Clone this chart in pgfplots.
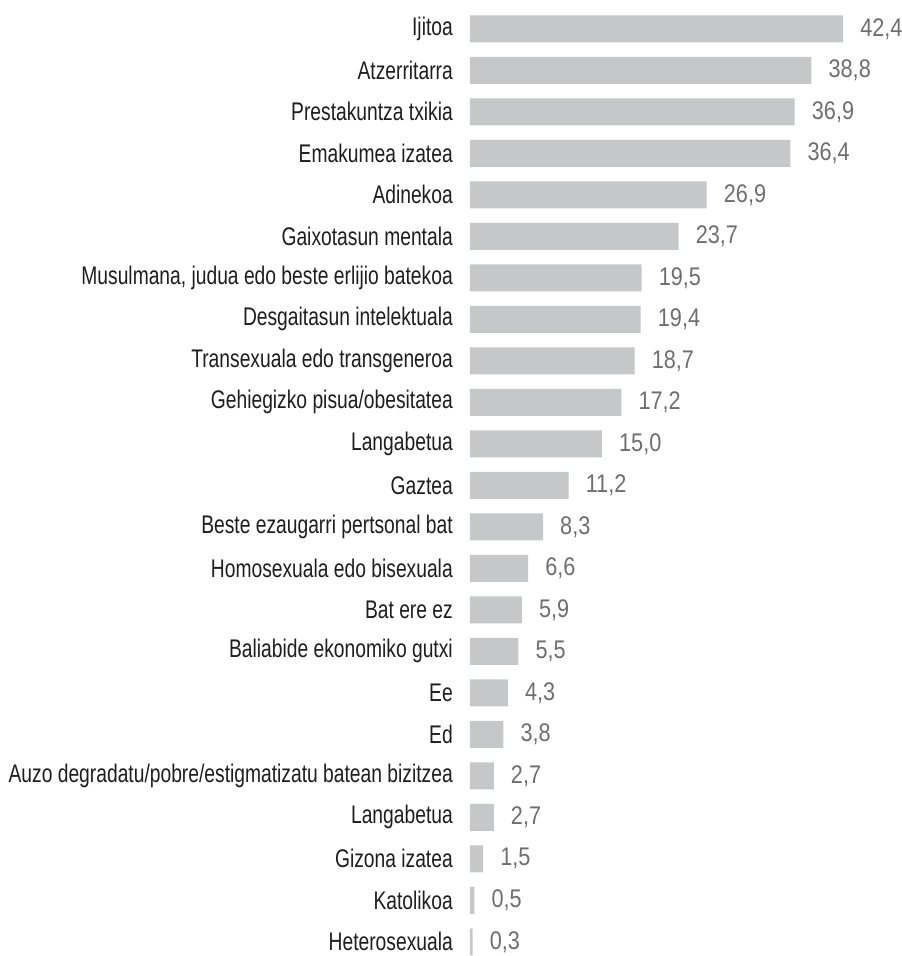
\documentclass[border=0pt]{standalone}
\usepackage{pgfplots}
\pgfplotsset{compat=1.18}
\usepackage{fontspec}
\setmainfont{Liberation Sans}[FakeStretch=0.755]
\newfontfamily\valfont{Liberation Sans}[FakeStretch=0.85]
\definecolor{barc}{HTML}{C6C7C8}
\definecolor{valc}{HTML}{6E6E6E}
\definecolor{labc}{HTML}{1E1E1E}
\begin{document}
\fontsize{25.5pt}{29pt}\selectfont
\begin{tikzpicture}
\begin{axis}[
  scale only axis,
  width=422.4pt, height=954.5pt,
  xmin=0, xmax=48,
  ymin=-0.5, ymax=22.5,
  y dir=reverse,
  xbar, bar width=27pt,
  axis line style={draw=none},
  xtick=\empty,
  ytick={0,...,22},
  major tick length=0pt,
  tick style={draw=none},
  yticklabels={Ijitoa,Atzerritarra,Prestakuntza txikia,Emakumea izatea,Adinekoa,Gaixotasun mentala,{Musulmana, judua edo beste erlijio batekoa},Desgaitasun intelektuala,Transexuala edo transgeneroa,Gehiegizko pisua/obesitatea,Langabetua,Gaztea,Beste ezaugarri pertsonal bat,Homosexuala edo bisexuala,Bat ere ez,Baliabide ekonomiko gutxi,Ee,Ed,Auzo degradatu/pobre/estigmatizatu batean bizitzea,Langabetua,Gizona izatea,Katolikoa,Heterosexuala},
  yticklabel style={font=\fontsize{25.5pt}{29pt}\selectfont, text=labc, inner sep=0pt, anchor=east, xshift=-17pt},
  nodes near coords={\pgfmathprintnumber[fixed, fixed zerofill, precision=1, use comma, assume math mode=true]{\pgfplotspointmeta}},
  every node near coord/.append style={font=\valfont\fontsize{25.5pt}{29pt}\selectfont, text=valc, anchor=west, inner sep=0pt, xshift=17pt},
  clip=false,
]
\addplot[fill=barc, draw=none] coordinates {
(42.4,0) (38.8,1) (36.9,2) (36.4,3) (26.9,4) (23.7,5) (19.5,6) (19.4,7) (18.7,8) (17.2,9) (15.0,10) (11.2,11) (8.3,12) (6.6,13) (5.9,14) (5.5,15) (4.3,16) (3.8,17) (2.7,18) (2.7,19) (1.5,20) (0.5,21) (0.3,22)
};
\end{axis}
\pgfresetboundingbox
\path[use as bounding box] (-470pt,6.5pt) rectangle (432pt,962.5pt);
\end{tikzpicture}
\end{document}
